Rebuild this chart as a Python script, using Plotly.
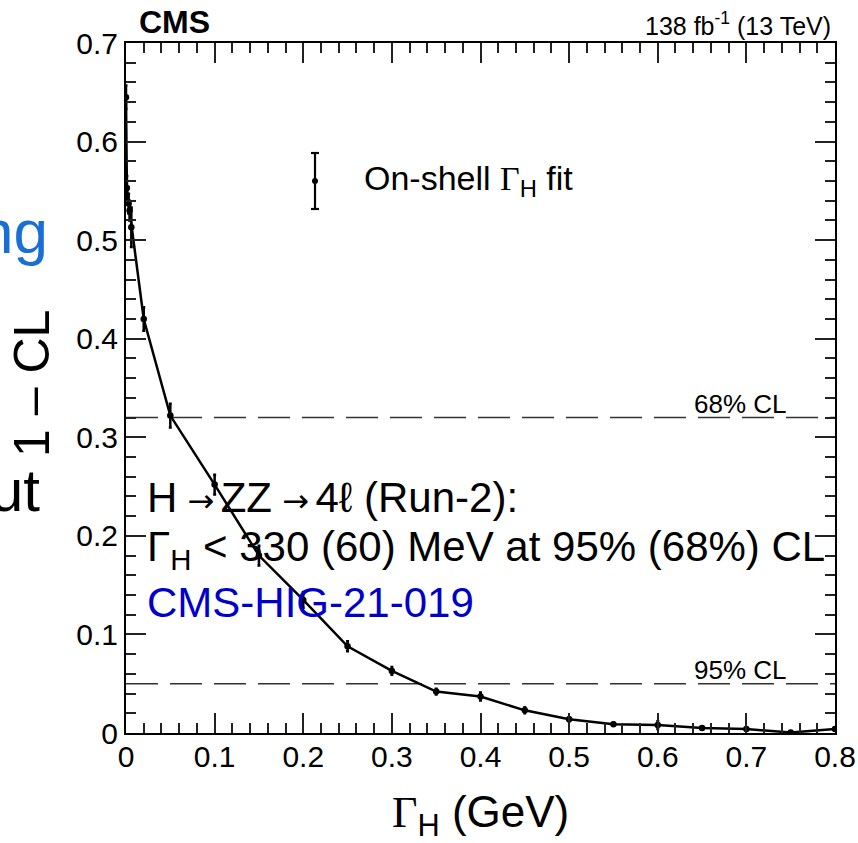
import plotly.graph_objects as go

# Scan of 1 - CL versus the Higgs width (on-shell fit)
gamma_h = [0.0, 0.001, 0.003, 0.004, 0.006, 0.02, 0.05, 0.10, 0.15, 0.20, 0.25,
           0.30, 0.35, 0.40, 0.45, 0.50, 0.55, 0.60, 0.65, 0.70, 0.75, 0.80]
one_minus_cl = [0.645, 0.553, 0.537, 0.530, 0.513, 0.420, 0.322, 0.252, 0.180, 0.135, 0.088,
                0.063, 0.042, 0.037, 0.023, 0.014, 0.009, 0.008, 0.005, 0.004, 0.0005, 0.004]
cl_err = [0.012, 0.012, 0.010, 0.010, 0.020, 0.012, 0.012, 0.010, 0.010, 0.008, 0.005,
          0.004, 0.003, 0.004, 0.003, 0.002, 0.0015, 0.004, 0.0015, 0.0015, 0.001, 0.001]

cl_levels = [0.32, 0.05]
cl_labels = ["68% CL", "95% CL"]

x_ticks = [0, 0.1, 0.2, 0.3, 0.4, 0.5, 0.6, 0.7, 0.8]
y_ticks = [0, 0.1, 0.2, 0.3, 0.4, 0.5, 0.6, 0.7]

W, H = 858, 843
L, R, T, B = 126, 23, 43, 110
PW, PH = W - L - R, H - T - B
SANS = "Liberation Sans, Arial, sans-serif"
SERIF = "Liberation Serif, Times New Roman, serif"


def px(x):
    return (x - L) / PW


def py(y):
    return (H - B - y) / PH


fig = go.Figure()

for lvl in cl_levels:
    fig.add_trace(go.Scatter(
        x=[x_ticks[0], x_ticks[-1]], y=[lvl, lvl], mode="lines",
        line=dict(color="#333333", width=1.6, dash="32px,12px"),
        hoverinfo="skip", showlegend=False))

fig.add_trace(go.Scatter(
    x=gamma_h, y=one_minus_cl, mode="lines+markers",
    line=dict(color="black", width=2.5),
    marker=dict(color="black", size=6.5),
    error_y=dict(type="data", array=cl_err, color="black", thickness=2.5, width=1.5),
    showlegend=False))

axis_common = dict(
    showline=True, linecolor="black", linewidth=2, mirror="allticks",
    ticks="inside", ticklen=20, tickwidth=1.5, tickcolor="#222222",
    showgrid=False, zeroline=False, automargin=False,
    tickfont=dict(family=SANS, size=30, color="black"),
)
fig.update_xaxes(range=[0, 0.8], tickvals=x_ticks, ticktext=[f"{v:g}" for v in x_ticks],
                 ticklabelstandoff=-4,
                 minor=dict(dtick=0.02, tick0=0, ticks="inside", ticklen=10,
                            tickwidth=1.5, tickcolor="#222222"),
                 **axis_common)
fig.update_yaxes(range=[0, 0.7], tickvals=y_ticks, ticktext=[f"{v:g}" for v in y_ticks],
                 minor=dict(dtick=0.02, tick0=0, ticks="inside", ticklen=10,
                            tickwidth=1.5, tickcolor="#222222"),
                 **axis_common)

ann = []
# slide fragments peeking in at the left edge
ann.append(dict(x=px(50), y=py(232), xref="paper", yref="paper", xanchor="right",
                yanchor="middle", text="ng", showarrow=False,
                font=dict(family=SANS, size=62, color="#1a6fd4")))
ann.append(dict(x=px(42), y=py(490), xref="paper", yref="paper", xanchor="right",
                yanchor="middle", text="ut", showarrow=False,
                font=dict(family=SANS, size=60, color="black")))

# headers
ann.append(dict(x=px(137), y=py(22), xref="paper", yref="paper", xanchor="left",
                yanchor="middle", text="<b>CMS</b>", showarrow=False,
                font=dict(family=SANS, size=32, color="black")))
ann.append(dict(x=px(833), y=py(24), xref="paper", yref="paper", xanchor="right",
                yanchor="middle", text="138 fb<sup>-1</sup> (13 TeV)", showarrow=False,
                font=dict(family=SANS, size=25, color="black")))

# CL labels
for lvl, lab in zip(cl_levels, cl_labels):
    ann.append(dict(x=0.748, y=lvl, xref="x", yref="y", xanchor="right", yanchor="bottom",
                    text=lab, showarrow=False, yshift=-3,
                    font=dict(family=SANS, size=26, color="black")))

# legend text
ann.append(dict(x=px(362), y=py(181), xref="paper", yref="paper", xanchor="left",
                yanchor="middle",
                text=f"On-shell <span style=\"font-family:{SERIF}\">Γ</span><sub>H</sub> fit",
                showarrow=False, font=dict(family=SANS, size=34, color="black")))

# result text
arrow = "<span style=\"font-family:DejaVu Sans;font-size:32px\"> →\u2009</span>"
ann.append(dict(x=px(145), y=py(497), xref="paper", yref="paper", xanchor="left",
                yanchor="middle", text=f"H{arrow}ZZ{arrow}4ℓ (Run-2):",
                showarrow=False, font=dict(family=SANS, size=42, color="black")))
ann.append(dict(x=px(145), y=py(549), xref="paper", yref="paper", xanchor="left",
                yanchor="middle", text="Γ<sub>H</sub> < 330 (60) MeV at 95% (68%) CL",
                showarrow=False, font=dict(family=SANS, size=42, color="black")))
ann.append(dict(x=px(145), y=py(602), xref="paper", yref="paper", xanchor="left",
                yanchor="middle", text="CMS-HIG-21-019",
                showarrow=False, font=dict(family=SANS, size=42, color="#0000cc")))

# axis titles
ann.append(dict(x=px(480), y=py(815), xref="paper", yref="paper", xanchor="center",
                yanchor="middle",
                text=f"<span style=\"font-family:{SERIF}\">Γ</span><sub>H</sub> (GeV)",
                showarrow=False, font=dict(family=SANS, size=44, color="black")))
ann.append(dict(x=px(32), y=py(384), xref="paper", yref="paper", xanchor="center",
                yanchor="middle", text="1 – CL", textangle=-90,
                showarrow=False, font=dict(family=SANS, size=50, color="black")))

# legend glyph: point with error bar
gx, gy0, gy1, gyc = px(315), py(153), py(209), py(181)
cap = 4 / PW
shapes = [
    dict(type="line", xref="paper", yref="paper", x0=gx, x1=gx, y0=gy0, y1=gy1,
         line=dict(color="black", width=2.2)),
    dict(type="line", xref="paper", yref="paper", x0=gx - cap, x1=gx + cap, y0=gy0, y1=gy0,
         line=dict(color="black", width=2.2)),
    dict(type="line", xref="paper", yref="paper", x0=gx - cap, x1=gx + cap, y0=gy1, y1=gy1,
         line=dict(color="black", width=2.2)),
    dict(type="circle", xref="paper", yref="paper",
         x0=gx - 3 / PW, x1=gx + 3 / PW, y0=gyc - 3 / PH, y1=gyc + 3 / PH,
         fillcolor="black", line=dict(color="black", width=0)),
]

fig.update_layout(
    width=W, height=H, autosize=False,
    margin=dict(l=L, r=R, t=T, b=B, autoexpand=False),
    paper_bgcolor="white", plot_bgcolor="white",
    annotations=ann, shapes=shapes,
    showlegend=False,
)

fig.write_html("out.html", config={"responsive": False},
               post_script="document.body.style.margin='0';"
                           "document.documentElement.style.overflow='hidden';")
